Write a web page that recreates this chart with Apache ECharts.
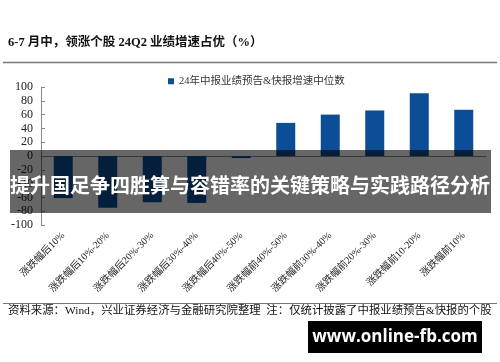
<!DOCTYPE html>
<html><head><meta charset="utf-8">
<script src="https://cdn.jsdelivr.net/npm/echarts@6/dist/echarts.min.js"></script>
<style>html,body{margin:0;padding:0;background:#fff}#c{width:500px;height:362px}</style>
</head><body><div id="c"></div>
<script>
const categories = ['涨跌幅后10%','涨跌幅后10%-20%','涨跌幅后20%-30%','涨跌幅后30%-40%','涨跌幅后40%-50%','涨跌幅前40%-50%','涨跌幅前30%-40%','涨跌幅前20%-30%','涨跌幅前10-20%','涨跌幅前10%'];
const growthMedian = [-61, -75, -67, -68, -3, 48, 60, 66, 91, 67];
const seriesName = '24年中报业绩预告&快报增速中位数';
const titleText = '6-7 月中，领涨个股 24Q2 业绩增速占优（%）';
const sourceText = '资料来源：Wind，兴业证券经济与金融研究院整理  注：仅统计披露了中报业绩预告&快报的个股';
const bannerText = '提升国足争四胜算与容错率的关键策略与实践路径分析';
const watermarkText = 'www.online-fb.com';

const serif = '"Liberation Serif","Times New Roman","Noto Sans CJK SC",serif';
const chart = echarts.init(document.getElementById('c'), null, {renderer:'canvas'});
chart.setOption({
  animation:false,
  backgroundColor:'#fff',
  grid:{left:41, right:14, top:87, bottom:137},
  legend:{
    data:[seriesName], top:71, left:163,
    itemWidth:6, itemHeight:6, itemGap:3, icon:'rect',
    textStyle:{fontFamily:serif, fontSize:10.5, color:'#333'}
  },
  xAxis:[{
    type:'category', data:categories,
    axisLine:{show:false, onZero:false}, axisTick:{show:false},
    axisLabel:{interval:0, rotate:45, margin:9, fontFamily:serif, fontSize:10, color:'#222'}
  },{
    type:'category', data:categories, position:'bottom',
    axisLine:{show:true, onZero:true, lineStyle:{color:'#8c8c8c', width:1}},
    axisTick:{show:false}, axisLabel:{show:false}
  }],
  yAxis:{
    type:'value', min:-100, max:100, interval:20,
    splitLine:{show:false},
    axisLine:{show:true, lineStyle:{color:'#888'}},
    axisTick:{show:true, inside:true, length:4, lineStyle:{color:'#888'}},
    axisLabel:{margin:8, fontFamily:serif, fontSize:12, color:'#222'}
  },
  series:[{
    name:seriesName, type:'bar', data:growthMedian, barWidth:19,
    itemStyle:{color:'#0B4E96'}
  }],
  graphic:[
    {type:'text', left:8, top:37, style:{text:titleText, font:'bold 12.5px '+serif, fill:'#111'}},
    {type:'line', shape:{x1:3, y1:62.5, x2:497, y2:62.5}, style:{stroke:'#777', lineWidth:1.5}},
    {type:'line', shape:{x1:3, y1:303.5, x2:497, y2:303.5}, style:{stroke:'#777', lineWidth:1}},
    {type:'text', left:8, top:305, style:{text:sourceText, font:'11.4px '+serif, fill:'#111'}},
    {type:'rect', shape:{x:10, y:150, width:481, height:63}, style:{fill:'rgba(0,0,0,0.6)'}, z:100},
    {type:'text', x:250, y:185, z:101, style:{text:bannerText, font:'bold 20px "Noto Sans CJK SC",sans-serif', fill:'#fff', align:'center', verticalAlign:'middle'}},
    {type:'rect', shape:{x:308, y:321, width:174, height:32}, style:{fill:'#000'}, z:100},
    {type:'text', x:395, y:337, z:101, style:{text:watermarkText, font:'bold 17px "Open Sans","DejaVu Sans",sans-serif', fill:'#fff', align:'center', verticalAlign:'middle'}}
  ]
});
</script></body></html>
